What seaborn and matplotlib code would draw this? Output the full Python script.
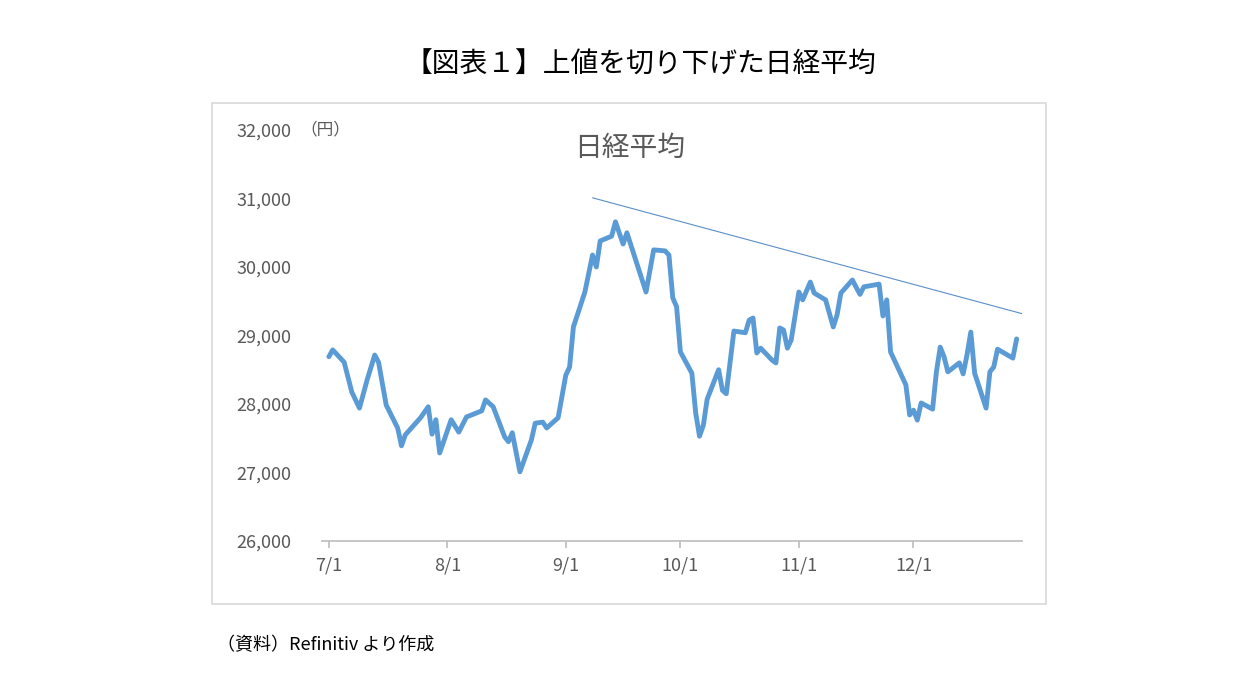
import matplotlib
matplotlib.use("Agg")
import matplotlib.pyplot as plt
import matplotlib.dates as mdates
from matplotlib.patches import Rectangle
import seaborn as sns
import pandas as pd

dates = ["7/1","7/2","7/5","7/7","7/9","7/11","7/13","7/14","7/16","7/19","7/20","7/21","7/25","7/27","7/28","7/29","7/30",
         "8/2","8/4","8/6","8/10","8/11","8/13","8/16","8/17","8/18","8/20","8/23","8/24","8/26","8/27","8/30",
         "9/1","9/2","9/3","9/6","9/8","9/9","9/10","9/13","9/14","9/16","9/17","9/22","9/24","9/27","9/28","9/29","9/30",
         "10/1","10/4","10/5","10/6","10/7","10/8","10/11","10/12","10/13","10/15","10/18","10/19","10/20","10/21","10/22",
         "10/25","10/26","10/27","10/28","10/29","10/30",
         "11/1","11/2","11/4","11/5","11/8","11/10","11/11","11/12","11/15","11/17","11/18","11/22","11/23","11/24","11/25",
         "11/29","11/30",
         "12/1","12/2","12/3","12/6","12/7","12/8","12/9","12/10","12/13","12/14","12/15","12/16","12/17","12/20","12/21",
         "12/22","12/23","12/27","12/28"]
nikkei = [28690,28790,28610,28175,27940,28350,28715,28610,27985,27650,27390,27550,27800,27960,27560,27770,27285,
          27770,27590,27810,27900,28060,27960,27520,27450,27580,27010,27475,27720,27735,27650,27800,
          28420,28540,29125,29635,30175,30000,30380,30450,30660,30335,30500,29635,30250,30235,30175,29550,29420,
          28760,28450,27870,27530,27690,28070,28500,28200,28150,29065,29040,29225,29255,28745,28815,
          28640,28600,29110,29080,28815,28935,
          29635,29520,29780,29620,29520,29125,29300,29620,29810,29600,29710,29750,29285,29520,28760,
          28280,27840,
          27910,27765,28015,27925,28470,28830,28690,28470,28600,28440,28715,29050,28450,27940,28470,
          28540,28800,28670,28950]
trend_dates = ["9/8", "12/30"]
trend_vals = [31010, 29310]
xtick_labels = ["7/1","8/1","9/1","10/1","11/1","12/1"]
yticks = [26000,27000,28000,29000,30000,31000,32000]

def to_dt(s):
    return pd.Timestamp(f"2021/{s}")

df = pd.DataFrame({"date": [to_dt(d) for d in dates], "value": nikkei})
tr = pd.DataFrame({"date": [to_dt(d) for d in trend_dates], "value": trend_vals})

sns.set_theme(style="white")
plt.rcParams['font.family'] = ['Noto Sans CJK JP', 'DejaVu Sans']

fig = plt.figure(figsize=(12.53, 6.99), dpi=100)
fig.patches.append(Rectangle((212/1253, 1-604/699), 834/1253, 501/699, transform=fig.transFigure,
                             fill=False, edgecolor="#d9d9d9", linewidth=1.2))
ax = fig.add_axes([322/1253, 1-541/699, 700/1253, 411/699])
sns.lineplot(data=df, x="date", y="value", ax=ax, color="#5b9bd5", linewidth=3.5)
sns.lineplot(data=tr, x="date", y="value", ax=ax, color="#5b8fc7", linewidth=0.8)

ax.set_ylim(26000, 32000)
ax.set_xlim(to_dt("7/1") - pd.Timedelta(days=1.8), to_dt("7/1") + pd.Timedelta(days=181.4))
ax.set_yticks(yticks)
ax.set_yticklabels([f"{v:,}" for v in yticks], color="#595959", fontsize=13)
ax.set_xticks([to_dt(d) for d in xtick_labels])
ax.set_xticklabels(xtick_labels, color="#595959", fontsize=13)
ax.tick_params(axis="y", length=0, pad=22)
ax.tick_params(axis="x", length=5, color="#bfbfbf", direction="out", bottom=True, pad=6)
for s in ["top", "right", "left"]:
    ax.spines[s].set_visible(False)
ax.spines["bottom"].set_color("#bfbfbf")
ax.set_xlabel("")
ax.set_ylabel("")

fig.text(300/1253, 1-130/699, "（円）", fontsize=12, color="#595959", va="center", ha="left")
fig.text(630/1253, 1-148/699, "日経平均", fontsize=20, color="#595959", va="center", ha="center")
fig.text(640/1253, 1-65/699, "【図表１】上値を切り下げた日経平均", fontsize=20, color="black", va="center", ha="center")
fig.text(217/1253, 1-645/699, "（資料）Refinitiv より作成", fontsize=13, color="black", va="center", ha="left")

fig.savefig("out.png", dpi=100)
